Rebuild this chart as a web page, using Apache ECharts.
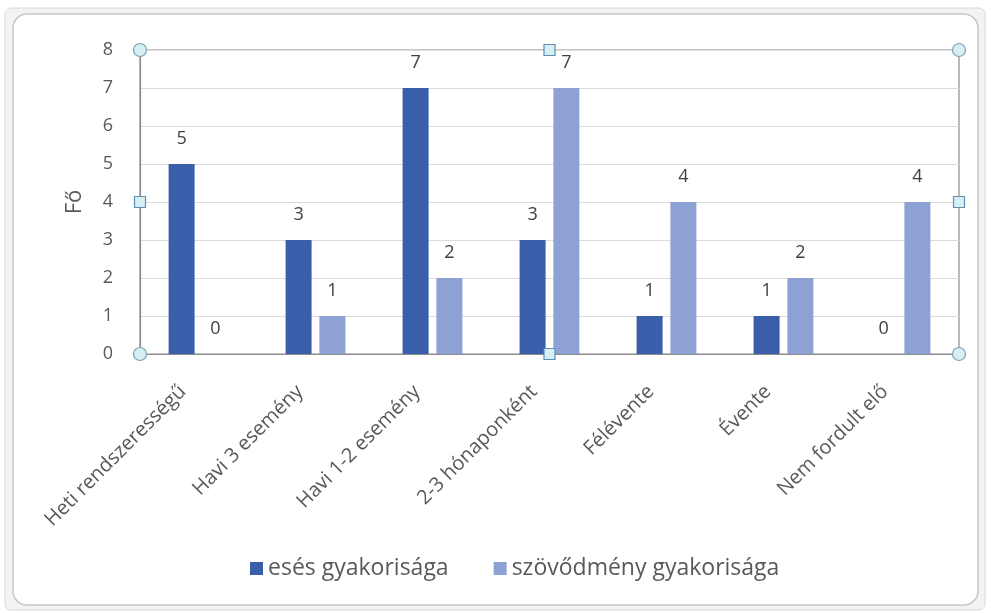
<!DOCTYPE html>
<html><head><meta charset="utf-8">
<script src="https://cdn.jsdelivr.net/npm/echarts@6/dist/echarts.min.js"></script>
<style>html,body{margin:0;padding:0;background:#fff}#c{width:991px;height:613px}</style>
</head><body><div id="c"></div>
<script>
var categories = ['Heti rendszerességű','Havi 3 esemény','Havi 1-2 esemény','2-3 hónaponként','Félévente','Évente','Nem fordult elő'];
var esesValues = [5, 3, 7, 3, 1, 1, 0];
var szovodmenyValues = [0, 1, 2, 7, 4, 2, 4];
var seriesNames = ['esés gyakorisága', 'szövődmény gyakorisága'];
var yTicks = [0,1,2,3,4,5,6,7,8];

var G = {left:140, right:32, top:50, bottom:259};
var W = 991, H = 613;
var gx0 = G.left, gx1 = W - G.right, gy0 = G.top, gy1 = H - G.bottom;
var gxm = (gx0+gx1)/2, gym = (gy0+gy1)/2;
function circ(x,y){return {type:'circle',shape:{cx:x,cy:y,r:6.5},style:{fill:'#d6eef4',stroke:'#7aa6b8',lineWidth:1.2},z:100};}
function sq(x,y){return {type:'rect',shape:{x:x-5.5,y:y-5.5,width:11,height:11},style:{fill:'#d6eef4',stroke:'#5f8fb3',lineWidth:1.2},z:100};}

var chart = echarts.init(document.getElementById('c'));
var font = 'Open Sans, Noto Sans, sans-serif';
chart.setOption({
  animation:false,
  textStyle:{fontFamily:font},
  graphic:[
    {type:'rect',shape:{x:5,y:8,width:980,height:602,r:6},style:{fill:'#f3f3f3',stroke:'#d8d8d8',lineWidth:1},z:-20},
    {type:'rect',shape:{x:13,y:14,width:965,height:591,r:14},style:{fill:'#ffffff',stroke:'#c8c8c8',lineWidth:1.5},z:-10},
    circ(gx0,gy0),circ(gx1,gy0),circ(gx0,gy1),circ(gx1,gy1),
    sq(gxm,gy0),sq(gxm,gy1),sq(gx0,gym),sq(gx1,gym)
  ],
  grid:{left:G.left,right:G.right,top:G.top,bottom:G.bottom,show:true,borderColor:'#8c8c8c',borderWidth:1.2,containLabel:false},
  legend:{
    bottom:28,left:245,itemWidth:13,itemHeight:13,itemGap:45,
    icon:'rect',
    textStyle:{fontSize:23,color:'#595959',fontFamily:font},
    data:seriesNames
  },
  xAxis:{
    type:'category',data:categories,
    axisLine:{lineStyle:{color:'#8c8c8c',width:1.2}},
    axisTick:{show:false},
    axisLabel:{rotate:45,fontSize:20,color:'#595959',margin:19,interval:0,padding:[0,22,0,0],fontFamily:font}
  },
  yAxis:{
    type:'value',min:0,max:8,interval:1,
    name:'Fő',nameLocation:'middle',nameGap:54,nameRotate:90,
    nameTextStyle:{fontSize:22,color:'#595959',fontFamily:font},
    axisLine:{show:true,lineStyle:{color:'#8c8c8c',width:1.2}},
    axisTick:{show:false},
    axisLabel:{fontSize:18,color:'#595959',margin:27,fontFamily:font},
    splitLine:{lineStyle:{color:'#dcdcdc',width:1.2}}
  },
  series:[
    {name:seriesNames[0],type:'bar',data:esesValues,barWidth:26,barGap:'30%',
     itemStyle:{color:'#3a5ea9'},
     label:{show:true,position:'top',distance:16,fontSize:18,color:'#404040',fontFamily:font}},
    {name:seriesNames[1],type:'bar',data:szovodmenyValues,barWidth:26,
     itemStyle:{color:'#8ea1d4'},
     label:{show:true,position:'top',distance:16,fontSize:18,color:'#404040',fontFamily:font}}
  ]
});
</script></body></html>
